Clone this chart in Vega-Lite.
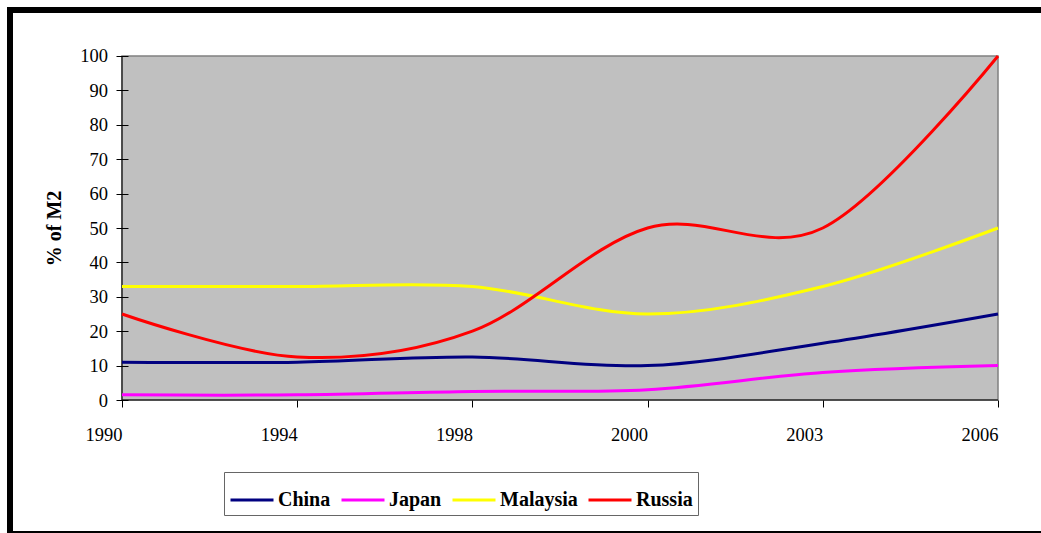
{
  "$schema": "https://vega.github.io/schema/vega-lite/v6.json",
  "width": 1034,
  "height": 524,
  "autosize": {"type": "none"},
  "padding": {"left": 10, "top": 10, "right": -3, "bottom": -1},
  "background": "white",
  "config": {
    "view": {"stroke": "black", "strokeWidth": 6, "fill": "white"},
    "font": "Liberation Serif"
  },
  "data": {
    "values": [
      {"year": "1990", "country": "China", "value": 11},
      {"year": "1994", "country": "China", "value": 11},
      {"year": "1998", "country": "China", "value": 12.5},
      {"year": "2000", "country": "China", "value": 10},
      {"year": "2003", "country": "China", "value": 16.5},
      {"year": "2006", "country": "China", "value": 25},
      {"year": "1990", "country": "Japan", "value": 1.5},
      {"year": "1994", "country": "Japan", "value": 1.5},
      {"year": "1998", "country": "Japan", "value": 2.5},
      {"year": "2000", "country": "Japan", "value": 3},
      {"year": "2003", "country": "Japan", "value": 8},
      {"year": "2006", "country": "Japan", "value": 10},
      {"year": "1990", "country": "Malaysia", "value": 33},
      {"year": "1994", "country": "Malaysia", "value": 33},
      {"year": "1998", "country": "Malaysia", "value": 33},
      {"year": "2000", "country": "Malaysia", "value": 25},
      {"year": "2003", "country": "Malaysia", "value": 33},
      {"year": "2006", "country": "Malaysia", "value": 50},
      {"year": "1990", "country": "Russia", "value": 25},
      {"year": "1994", "country": "Russia", "value": 12.5},
      {"year": "1998", "country": "Russia", "value": 20},
      {"year": "2000", "country": "Russia", "value": 50},
      {"year": "2003", "country": "Russia", "value": 50},
      {"year": "2006", "country": "Russia", "value": 100}
    ]
  },
  "layer": [
    {
      "data": {"values": [{}]},
      "mark": {"type": "rect", "fill": "#C0C0C0", "stroke": "#808080", "strokeWidth": 1.5},
      "encoding": {
        "x": {"datum": "1990", "type": "ordinal", "scale": {"type": "point", "domain": ["1990", "1994", "1998", "2000", "2003", "2006"], "padding": 0.45091, "align": 0.70886}},
        "x2": {"datum": "2006"},
        "y": {"datum": 100, "type": "quantitative", "scale": {"domain": [-38.953, 113.372], "nice": false, "zero": false}},
        "y2": {"datum": 0}
      }
    },
    {
      "data": {"values": [{}]},
      "mark": {"type": "rule", "color": "black", "strokeWidth": 1},
      "encoding": {
        "x": {"datum": "1990", "type": "ordinal"},
        "y": {"datum": 0, "type": "quantitative"},
        "y2": {"datum": 100}
      }
    },
    {
      "data": {"values": [{}]},
      "mark": {"type": "rule", "color": "black", "strokeWidth": 1},
      "encoding": {
        "x": {"datum": "1990", "type": "ordinal"},
        "x2": {"datum": "2006"},
        "y": {"datum": 0, "type": "quantitative"}
      }
    },
    {
      "mark": {"type": "line", "interpolate": "cardinal", "strokeWidth": 3},
      "encoding": {
        "x": {
          "field": "year",
          "type": "ordinal",
          "scale": {"type": "point", "domain": ["1990", "1994", "1998", "2000", "2003", "2006"], "padding": 0.45091, "align": 0.70886},
          "axis": {
            "title": null,
            "offset": -134,
            "domain": false,
            "grid": false,
            "tickSize": 7,
            "tickColor": "black",
            "labelAngle": 0,
            "labelFont": "Liberation Serif",
            "labelFontSize": 18.5,
            "labelColor": "black",
            "labelPadding": 27
          }
        },
        "y": {
          "field": "value",
          "type": "quantitative",
          "scale": {"domain": [-38.953, 113.372], "nice": false, "zero": false},
          "axis": {
            "title": "% of M2",
            "titleFont": "Liberation Serif",
            "titleFontSize": 20,
            "titleFontWeight": "bold",
            "titleColor": "black",
            "titlePadding": 15,
            "titleY": 218,
            "values": [0, 10, 20, 30, 40, 50, 60, 70, 80, 90, 100],
            "offset": -118,
            "tickSize": 12,
            "tickColor": "black",
            "domain": false,
            "grid": false,
            "labelFont": "Liberation Serif",
            "labelFontSize": 18.5,
            "labelColor": "black",
            "labelPadding": 8.5,
            "zindex": 1
          }
        },
        "color": {
          "field": "country",
          "type": "nominal",
          "scale": {"domain": ["China", "Japan", "Malaysia", "Russia"], "range": ["#000080", "#FF00FF", "#FFFF00", "#FF0000"]},
          "legend": {
            "title": null,
            "orient": "none",
            "legendX": 214,
            "legendY": 462,
            "direction": "horizontal",
            "symbolType": "stroke",
            "symbolSize": 1849,
            "symbolStrokeWidth": 3,
            "labelFont": "Liberation Serif",
            "labelFontSize": 20,
            "labelFontWeight": "bold",
            "labelColor": "black",
            "labelOffset": 3,
            "columnPadding": 4,
            "padding": 5,
            "strokeColor": "#666666",
            "fillColor": "white",
            "cornerRadius": 0
          }
        }
      }
    }
  ]
}
